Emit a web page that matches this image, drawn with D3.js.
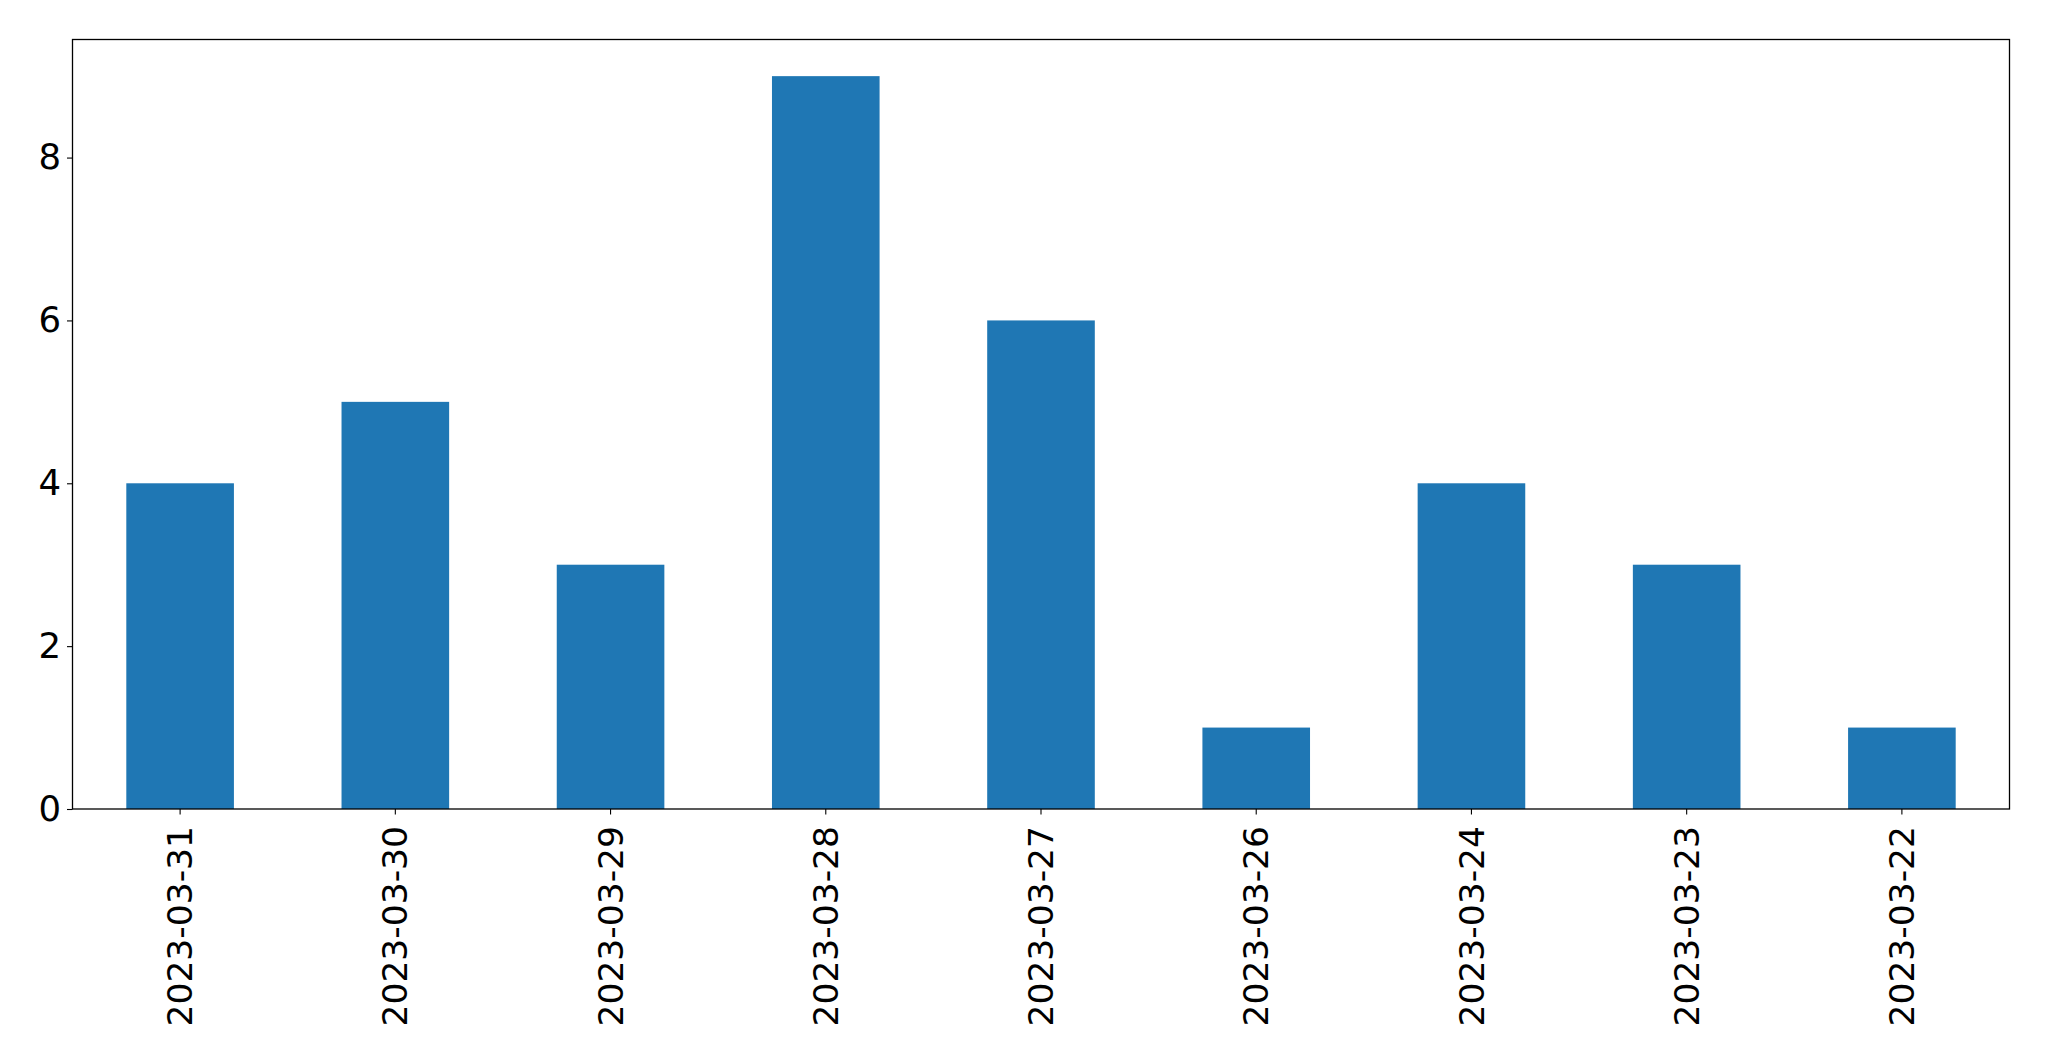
<!DOCTYPE html>
<html><head><meta charset="utf-8">
<script src="https://cdn.jsdelivr.net/npm/d3@7"></script>
<style>body{margin:0;background:#fff}svg{display:block}</style>
</head><body>
<script>
const categories = ["2023-03-31","2023-03-30","2023-03-29","2023-03-28","2023-03-27","2023-03-26","2023-03-24","2023-03-23","2023-03-22"];
const values = [4,5,3,9,6,1,4,3,1];
const yTicks = [0,2,4,6,8];

const W = 2049, H = 1061;
const m = {left:72.5, right:W-2009.5, top:39.5, bottom:H-809};
const svg = d3.select("body").append("svg").attr("width",W).attr("height",H);
const x = d3.scaleBand().domain(categories).range([m.left, W-m.right]).paddingInner(0.5).paddingOuter(0.25);
const y = d3.scaleLinear().domain([0, d3.max(values)*1.05]).range([H-m.bottom, m.top]);

svg.append("g").selectAll("rect").data(values).join("rect")
  .attr("x",(d,i)=>x(categories[i])).attr("width",x.bandwidth())
  .attr("y",d=>y(d)).attr("height",d=>y(0)-y(d)).attr("fill","#1f77b4");

const font = "DejaVu Sans";
const yAxis = svg.append("g").attr("transform",`translate(${m.left},0)`)
  .call(d3.axisLeft(y).tickValues(yTicks).tickSize(5.5).tickPadding(6).tickFormat(d3.format("d")));
yAxis.select(".domain").remove();
yAxis.selectAll("text").attr("font-family",font).attr("font-size",35.5).attr("fill","#000");
yAxis.selectAll("line").attr("stroke","#000").attr("stroke-width",1.1);

const xAxis = svg.append("g").attr("transform",`translate(0,${H-m.bottom})`)
  .call(d3.axisBottom(x).tickSize(5.5).tickPadding(0));
xAxis.select(".domain").remove();
xAxis.selectAll("line").attr("stroke","#000").attr("stroke-width",1.1);
xAxis.selectAll("text").attr("font-family",font).attr("font-size",34.5).attr("fill","#000")
  .attr("transform","translate(0,17) rotate(-90)").attr("text-anchor","end").attr("dy","0.35em").attr("x",0).attr("y",0);

svg.append("rect").attr("x",m.left).attr("y",m.top).attr("width",W-m.right-m.left).attr("height",H-m.bottom-m.top)
  .attr("fill","none").attr("stroke","#000").attr("stroke-width",1.3);
</script>
</body></html>
